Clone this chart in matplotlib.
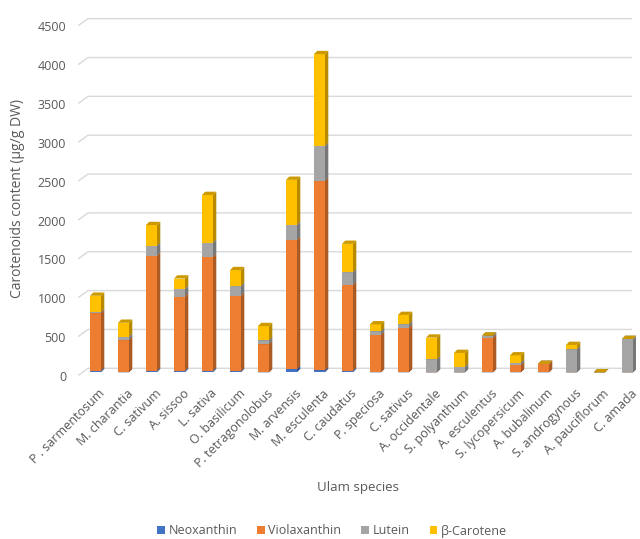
import matplotlib
matplotlib.use('Agg')
import matplotlib.pyplot as plt
from matplotlib.patches import Polygon
import matplotlib.colors as mcolors
import numpy as np

species = ['P . sarmentosum', 'M. charantia', 'C. sativum', 'A. sissoo', 'L. sativa',
           'O. basilicum', 'P. tetragonolobus', 'M. arvensis', 'M. esculenta', 'C. caudatus',
           'P. speciosa', 'C. sativus', 'A. occidentale', 'S. polyanthum', 'A. esculentus',
           'S. lycopersicum', 'A. bubalinum', 'S. androgynous', 'A. pauciflorum', 'C. amada']
neoxanthin = [20, 0, 20, 20, 20, 15, 0, 40, 25, 20, 0, 0, 0, 0, 0, 0, 0, 0, 0, 0]
violaxanthin = [740, 414, 1480, 955, 1465, 970, 360, 1665, 2435, 1105, 480, 575, 0, 0, 446, 94, 107, 0, 0, 0]
lutein = [15, 43, 129, 99, 184, 124, 51, 193, 455, 163, 47, 43, 167, 69, 26, 30, 0, 296, 0, 429]
beta_carotene = [210, 180, 266, 133, 613, 206, 184, 579, 1180, 365, 90, 120, 279, 180, 0, 94, 0, 56, 0, 0]
series_names = ['Neoxanthin', 'Violaxanthin', 'Lutein', 'β-Carotene']
series_colors = ['#4472C4', '#ED7D31', '#A5A5A5', '#FFC000']
y_ticks = [0, 500, 1000, 1500, 2000, 2500, 3000, 3500, 4000, 4500]

plt.rcParams['font.family'] = ['Open Sans', 'DejaVu Sans']
TXT = '#595959'

W, H = 640, 539
fig = plt.figure(figsize=(W / 100, H / 100), dpi=100)
L, R, T, B = 78, 636, 10, 385
ax = fig.add_axes([L / W, 1 - B / H, (R - L) / W, (B - T) / H])

px_x = 28.0      # pixels per category
px_v = 0.0777    # pixels per unit
front0 = 372.3   # pixel row of value 0 on front plane
xmin = -(95.5 - L) / px_x
xmax = xmin + (R - L) / px_x
ax.set_xlim(xmin, xmax)
ax.set_ylim(-(B - front0) / px_v, (front0 - T) / px_v)
for s in ax.spines.values():
    s.set_visible(False)

# back-wall gridlines with slanted side-wall part
g_lo, g_hi = -3.2 / px_v, 4.0 / px_v
for v in y_ticks:
    ax.plot([xmin, xmin + 10 / px_x, xmax - 4 / px_x], [v + g_lo, v + g_hi, v + g_hi],
            color='#D9D9D9', lw=1.0, zorder=0, solid_capstyle='butt')

x = np.arange(len(species))
w = 11 / px_x
ddx, ddy = 3.3 / px_x, 3.3 / px_v

def shade(c, f):
    r, g, b = mcolors.to_rgb(c)
    return (r * f, g * f, b * f)

bottom = np.zeros(len(species))
handles = []
for k, (vals, c, name) in enumerate(zip([neoxanthin, violaxanthin, lutein, beta_carotene],
                                        series_colors, series_names)):
    vals = np.array(vals, dtype=float)
    z = 2 + k
    bars = ax.bar(x, vals, w, bottom=bottom, color=c, label=name, zorder=z, linewidth=0)
    handles.append(bars)
    for xi, b, h in zip(x, bottom, vals):
        xr = xi + w / 2
        xl = xi - w / 2
        side = Polygon([(xr, b), (xr + ddx, b + ddy), (xr + ddx, b + h + ddy), (xr, b + h)],
                       closed=True, facecolor=shade(c, 0.72), edgecolor='none', zorder=z)
        top = Polygon([(xl, b + h), (xl + ddx, b + h + ddy), (xr + ddx, b + h + ddy), (xr, b + h)],
                      closed=True, facecolor=shade(c, 0.8), edgecolor='none', zorder=z)
        ax.add_patch(side)
        ax.add_patch(top)
    bottom = bottom + vals

ax.set_yticks([v - 3.7 / px_v for v in y_ticks])
ax.set_yticklabels([str(v) for v in y_ticks])
ax.tick_params(axis='y', length=0, pad=8.6, labelsize=9, labelcolor=TXT)
ax.set_xticks(x + 3 / px_x)
ax.set_xticklabels(species, rotation=45, ha='right', va='top', rotation_mode='anchor')
ax.tick_params(axis='x', length=0, pad=1.5, labelsize=9, labelcolor=TXT)

fig.text(18 / W, 1 - 199 / H, 'Carotenoids content (µg/g DW)', rotation=90,
         ha='center', va='center', fontsize=10, color=TXT)
fig.text(358 / W, 1 - 487 / H, 'Ulam species', ha='center', va='center', fontsize=9.5, color=TXT)

leg = fig.legend(handles=handles, labels=series_names, loc='center', ncol=4,
                 bbox_to_anchor=(332 / W, 1 - 531 / H), frameon=False, fontsize=9,
                 handlelength=0.6, handleheight=0.6, handletextpad=0.3, columnspacing=1.6)
for t in leg.get_texts():
    t.set_color(TXT)

fig.savefig('out.png', dpi=100)
